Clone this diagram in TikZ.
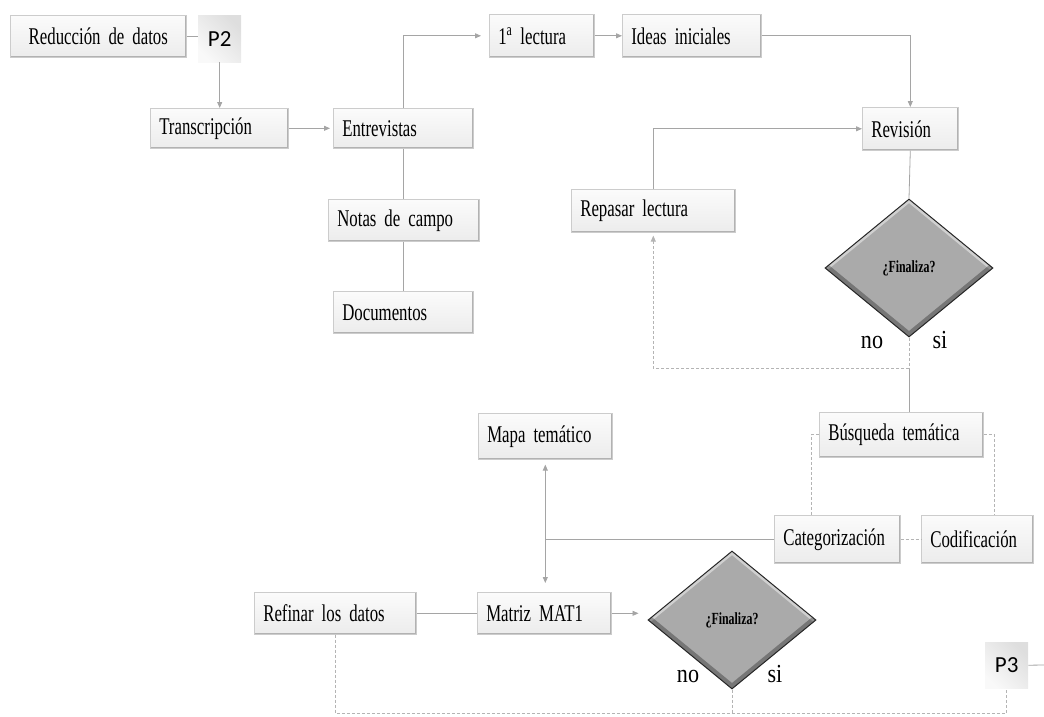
\documentclass[tikz,border=0pt]{standalone}
\usepackage{fontspec}
\setmainfont{Liberation Serif}[FakeStretch=0.70]
\newfontfamily\labfont{Liberation Serif}[FakeStretch=0.85]
\newfontfamily\pfont{Carlito}
\usetikzlibrary{arrows.meta,shapes.geometric}

\definecolor{lineGray}{RGB}{165,165,165}
\definecolor{dashGray}{RGB}{180,180,180}
\definecolor{decFill}{RGB}{170,170,170}

\tikzset{
  box/.style={draw=gray!40, line width=0.6pt, top color=gray!3, bottom color=gray!15,
    font=\fontsize{24}{26}\selectfont, inner xsep=9pt, inner ysep=0pt, align=left,
    path picture={
      \draw[gray!60, line width=3pt]
        (path picture bounding box.south west) -- (path picture bounding box.south east)
        -- (path picture bounding box.north east);
      \draw[white, line width=2pt]
        (path picture bounding box.south west) -- (path picture bounding box.north west)
        -- (path picture bounding box.north east);
    }},
  decision/.style={shape=diamond, minimum width=168pt, minimum height=138pt, inner sep=0pt,
    fill=decFill, draw=black!85, line width=1pt,
    font=\bfseries\fontsize{17}{19}\selectfont,
    path picture={
      \draw[white, opacity=0.45, line width=6pt]
        (path picture bounding box.west) -- (path picture bounding box.north)
        -- (path picture bounding box.east);
      \draw[black, opacity=0.3, line width=9pt]
        (path picture bounding box.west) -- (path picture bounding box.south)
        -- (path picture bounding box.east);
    }},
  pbox/.style={top color=gray!26, bottom color=gray!5, shading angle=-45,
    font=\pfont\fontsize{23}{26}\selectfont, inner sep=0pt, anchor=north west},
  lab/.style={font=\labfont\fontsize{26}{28}\selectfont, inner sep=0pt, anchor=base},
  conn/.style={draw=lineGray, line width=0.8pt},
  arr/.style={conn, -{Triangle[length=6pt,width=5pt]}},
  dconn/.style={draw=dashGray, line width=0.8pt, dash pattern=on 3pt off 2pt},
  darr/.style={dconn, -{Triangle[length=6pt,width=5pt]}}
}

% box by its corners: name, x1, y1, x2, y2, text
\newcommand\bx[7][]{%
  \pgfmathsetmacro\bxW{#5-#3}%
  \pgfmathsetmacro\bxH{#6-#4}%
  \pgfmathsetmacro\bxT{#5-#3-18}%
  \node[box, #1, anchor=north west, minimum width=\bxW pt, minimum height=\bxH pt,
        text width=\bxT pt] (#2) at (#3,#4) {#7};}

\begin{document}
\begin{tikzpicture}[x=1pt,y=-1pt]
\useasboundingbox (0,0) rectangle (1044,716);

% boxes
\bx[align=center]{red}{10}{15}{186}{57}{Reducción de datos}
\bx{trans}{150}{108}{288}{148}{Transcripción}
\bx{ent}{333}{108}{473}{148}{Entrevistas}
\bx{lec}{489}{14}{594}{57}{1\textsuperscript{a} lectura}
\bx{ideas}{622}{14}{761}{57}{Ideas iniciales}
\bx{rev}{862}{107}{958}{150}{Revisión}
\bx{notas}{328}{199}{479}{241}{Notas de campo}
\bx{docs}{333}{291}{473}{333}{Documentos}
\bx{rep}{571}{189}{735}{232}{Repasar lectura}
\bx{mapa}{478}{413}{612}{459}{Mapa temático}
\bx{bus}{819}{412}{983}{457}{Búsqueda temática}
\bx{cat}{774}{515}{900}{563}{Categorización}
\bx{cod}{921}{515}{1033}{563}{Codificación}
\bx{ref}{254}{592}{416}{634}{Refinar los datos}
\bx{mat}{477}{592}{611}{634}{Matriz MAT1}

% process markers
\node[pbox, minimum width=43pt, minimum height=47pt] (p2) at (198,15) {P2};
\node[pbox, minimum width=43pt, minimum height=46pt] (p3) at (985,642) {P3};

% decisions
\node[decision] (d1) at (909,268) {¿Finaliza?};
\node[decision] (d2) at (732,620) {¿Finaliza?};
\node[lab] (no1) at (872,348) {no};
\node[lab] (si1) at (940,348) {si};
\node[lab] (no2) at (688,682) {no};
\node[lab] (si2) at (775,682) {si};

\coordinate (base) at (0,713);
\coordinate (edge) at (1044,665);

% connectors: first part
\draw[conn] (red.east) -- (red.east -| p2.west);
\draw[arr] (p2.south) -- (p2.south |- trans.north);
\draw[arr, shorten >=3pt] (trans.east) -- (trans.east -| ent.west);
\draw[arr, shorten >=8pt] (ent.north) |- (lec.west);
\draw[arr] (lec.east) -- (lec.east -| ideas.west);
\draw[arr] (ideas.east) -| (rev.north);
\draw[conn] (ent.south) -- (ent.south |- notas.north);
\draw[conn] (notas.south) -- (notas.south |- docs.north);
\draw[arr] (rep.north) |- (rev.west);
\draw[conn] (rev.south) -- (d1.north);

% decision loop
\draw[dconn] (d1.south) -- ++(0,31) coordinate (j1);
\draw[darr, shorten >=3pt] (j1) -| (rep.south);
\draw[conn] (j1) -- (j1 |- bus.north);

% thematic search
\draw[dconn] (bus.west) -- ++(-8,0) coordinate (bl) -- (bl |- cat.north);
\draw[dconn] (bus.east) -- ++(11,0) coordinate (br) -- (br |- cod.north);
\draw[dconn] (cat.east) -- (cod.west);
\draw[conn] (cat.west) -- (cat.west -| mapa.south);
\draw[conn, {Triangle[length=6pt,width=5pt]}-{Triangle[length=6pt,width=5pt]},
      shorten <=5pt, shorten >=9pt] (mapa.south) -- (mapa.south |- mat.north);

% second decision
\draw[conn] (ref.east) -- (mat.west);
\draw[arr, shorten >=9pt] (mat.east) -- (mat.east -| d2.west);
\draw[dconn] (ref.south) -- (ref.south |- base) -| (p3.south);
\draw[dconn] (d2.south) -- (d2.south |- base);
\draw[conn] (p3.east) -- (edge);
\end{tikzpicture}
\end{document}
